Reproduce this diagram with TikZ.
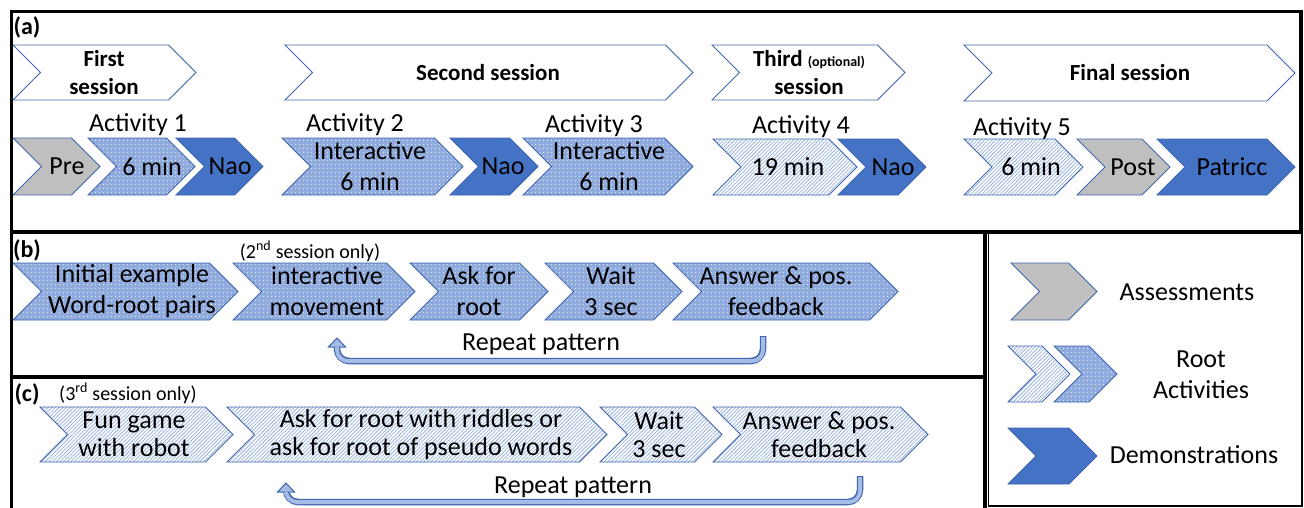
\documentclass[tikz,border=0pt]{standalone}
\usepackage{fontspec}
\setmainfont{Carlito}
\usetikzlibrary{patterns.meta}
\definecolor{chevline}{HTML}{3F66AE}
\definecolor{demoblue}{HTML}{4472C4}
\definecolor{dotblue}{HTML}{8FAADC}
\definecolor{hatchblue}{HTML}{9AB3DF}
\definecolor{assessgray}{HTML}{BFBFBF}
\definecolor{arrowfill}{HTML}{A4BCE6}
\tikzset{
 chevbase/.style={draw=chevline, line width=0.9pt, line join=miter},
 gray chev/.style={fill=assessgray},
 dark chev/.style={fill=demoblue},
 dot chev/.style={preaction={fill=dotblue}, pattern={Dots[radius=0.75pt,distance=4pt]}, pattern color=white!75!dotblue},
 hatch chev/.style={preaction={fill=white}, pattern={Lines[angle=45,distance=2.6pt,line width=0.8pt]}, pattern color=hatchblue},
 sess chev/.style={fill=white},
 chevtext/.style={align=center, inner sep=0pt, text=black, font=\fontsize{26}{31}\selectfont},
 plain/.style={inner sep=0pt, text=black, font=\fontsize{26}{31}\selectfont},
 panel/.style={draw=black, line width=3.5pt},
 plabel/.style={inner sep=0pt, font=\bfseries\fontsize{24}{28}\selectfont},
 note/.style={inner sep=0pt, font=\fontsize{20}{24}\selectfont},
 rep outer/.style={draw=chevline, line width=6.5pt, rounded corners=12pt},
 rep inner/.style={draw=arrowfill, line width=4pt, rounded corners=11pt},
 rep head/.style={fill=arrowfill, draw=chevline, line width=1pt, line join=miter},
}
% #1 path style, #2 name, #3 x1, #4 x2, #5 ytop, #6 ybottom, #7 text x, #8 text
\newcommand{\chev}[8][]{%
  \pgfmathsetmacro\chd{(#6-#5)/2}%
  \pgfmathsetmacro\chm{(#5+#6)/2}%
  \path[chevbase,#1] (#3,#5) -- ({#4-\chd},#5) -- (#4,\chm) -- ({#4-\chd},#6) -- (#3,#6) -- ({#3+\chd},\chm) -- cycle;
  \node[chevtext] (#2) at (#7,\chm) {#8};
}
\begin{document}
\begin{tikzpicture}[x=1pt,y=-1pt]
\useasboundingbox (0,0) rectangle (1304,507);
\clip (0,0) rectangle (1304,507);
\fill[white] (0,0) rectangle (1304,507);

% ---------- panel (a) ----------
\node[plabel] (la) at (27,27) {(a)};
\begin{scope}[chevtext/.style={align=center,inner sep=0pt,text=black,font=\bfseries\fontsize{23}{28}\selectfont}]
\chev[sess chev]{s1}{13}{196}{45}{100}{104}{First\\session}
\chev[sess chev]{s2}{285}{693}{45}{100}{488}{Second session}
\chev[sess chev]{s3}{712}{905}{45}{100}{809}{Third {\fontsize{14}{16}\selectfont (optional)}\\session}
\chev[sess chev]{s4}{964}{1295}{45}{101}{1130}{Final session}
\end{scope}

\node[plain,anchor=base] (act1) at (138,131) {Activity 1};
\node[plain,anchor=base] (act2) at (355,131) {Activity 2};
\node[plain,anchor=base] (act3) at (594,132) {Activity 3};
\node[plain,anchor=base] (act4) at (801,133) {Activity 4};
\node[plain,anchor=base] (act5) at (1022,135) {Activity 5};

\chev[gray chev]{pre}{13}{100}{138}{195}{67}{Pre}
\chev[dot chev]{a1}{88}{195}{138}{195}{152}{6 min}
\chev[dark chev]{nao1}{176}{263}{138}{195}{230}{Nao}
\chev[dot chev]{a2}{282}{463}{138}{195}{370}{Interactive\\6 min}
\chev[dark chev]{nao2}{450}{538}{138}{195}{503}{Nao}
\chev[dot chev]{a3}{523}{693}{138}{195}{609}{Interactive\\6 min}
\chev[hatch chev]{a4}{713}{857}{139}{195}{788}{19 min}
\chev[dark chev]{nao3}{838}{926}{139}{195}{893}{Nao}
\chev[hatch chev]{a5}{964}{1083}{139}{195}{1031}{6 min}
\chev[gray chev]{post}{1077}{1170}{139}{195}{1133}{Post}
\chev[dark chev]{pat}{1157}{1295}{139}{195}{1232}{Patricc}

% ---------- panel (b) ----------
\node[plabel] (lb) at (27,250) {(b)};
\node[note] (only2) at (310,251) {(2\textsuperscript{nd} session only)};
\chev[dot chev]{bex}{13}{238}{263}{320}{132}{Initial example\\Word-root pairs}
\chev[dot chev]{bmov}{233}{415}{263}{320}{327}{interactive\\movement}
\chev[dot chev]{bask}{410}{548}{263}{320}{479}{Ask for\\root}
\chev[dot chev]{bwait}{545}{682}{263}{320}{611}{Wait\\3 sec}
\chev[dot chev]{bans}{673}{898}{263}{320}{776}{Answer \& pos.\\feedback}
\node[plain,anchor=base] (brep) at (541,350) {Repeat pattern};

\coordinate (bfrom) at (763,336);
\coordinate (bcornerA) at (763,361);
\coordinate (bcornerB) at (337,361);
\coordinate (bto) at (337,346);
\draw[rep outer] (bfrom) -- (bcornerA) -- (bcornerB) -- (bto);
\draw[rep inner] ([yshift=-1pt]bfrom) -- (bcornerA) -- (bcornerB) -- (bto);
\filldraw[rep head] (337,338) -- (345.5,347) -- (328.5,347) -- cycle;
\draw[draw=arrowfill, line width=4pt] (337,350) -- (337,346.5);

% ---------- panel (c) ----------
\node[plabel] (lc) at (27,394) {(c)};
\node[note] (only3) at (128,393) {(3\textsuperscript{rd} session only)};
\begin{scope}[chevtext/.style={align=center,inner sep=0pt,text=black,font=\fontsize{26}{28}\selectfont}]
\chev[hatch chev]{cfun}{40}{233}{407}{462}{134}{Fun game\\with robot}
\chev[hatch chev]{crid}{227}{607}{407}{462}{421}{Ask for root with riddles or\\ask for root of pseudo words}
\chev[hatch chev]{cwait}{600}{722}{407}{462}{659}{Wait\\3 sec}
\chev[hatch chev]{cans}{713}{928}{407}{462}{819}{Answer \& pos.\\feedback}
\end{scope}
\node[plain,anchor=base] (crep) at (573,493) {Repeat pattern};

\coordinate (cfrom) at (860,476);
\coordinate (ccornerA) at (860,502);
\coordinate (ccornerB) at (286,502);
\coordinate (cto) at (286,491);
\draw[rep outer] (cfrom) -- (ccornerA) -- (ccornerB) -- (cto);
\draw[rep inner] ([yshift=-1pt]cfrom) -- (ccornerA) -- (ccornerB) -- (cto);
\filldraw[rep head] (286,483) -- (294.5,492) -- (277.5,492) -- cycle;
\draw[draw=arrowfill, line width=4pt] (286,495) -- (286,491.5);

% ---------- legend ----------
\chev[gray chev]{lgas}{1011}{1097}{263}{320}{1054}{}
\node[plain] (tas) at (1187,292) {Assessments};
\chev[hatch chev]{lgr1}{1008}{1070}{346}{402}{1039}{}
\chev[dot chev]{lgr2}{1054}{1117}{346}{402}{1086}{}
\node[chevtext] (troot) at (1201,375) {Root\\Activities};
\chev[dark chev]{lgdemo}{1008}{1097}{428}{484}{1052}{}
\node[plain] (tdemo) at (1194,455) {Demonstrations};

% ---------- frames ----------
\draw[panel] (11.5,11.5) rectangle (1301,232);
\draw[panel] (11.5,232) rectangle (985,377);
\draw[panel] (11.5,377) rectangle (985,520);
\draw[line width=1.3pt] (988.5,233) rectangle (1302,506);
\end{tikzpicture}
\end{document}
